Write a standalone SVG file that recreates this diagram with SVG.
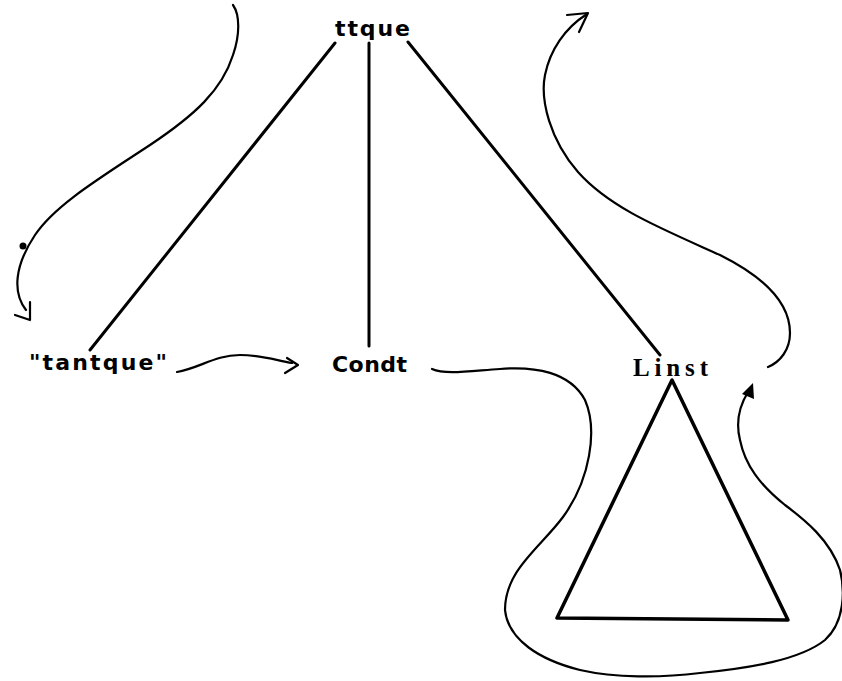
<svg xmlns="http://www.w3.org/2000/svg" width="842" height="681" viewBox="0 0 842 681">
<style>
.lbl{font-family:"DejaVu Sans","Liberation Sans",sans-serif;font-weight:bold;font-size:22px;fill:#000}
.ser{font-family:"Liberation Serif","DejaVu Serif",serif;font-weight:bold;font-size:25px;fill:#000}
.edge{stroke:#000;stroke-width:3;fill:none;stroke-linecap:round}
.curve{stroke:#000;stroke-width:2.2;fill:none;stroke-linecap:round;stroke-linejoin:round}
.tri{stroke:#000;stroke-width:3.5;fill:none;stroke-linejoin:round}
</style>
<rect width="842" height="681" fill="#fff"/>
<g id="connectors">
<line class="edge" x1="335" y1="43" x2="90" y2="350"/>
<line class="edge" x1="369" y1="43" x2="369" y2="346"/>
<line class="edge" x1="408" y1="42" x2="660" y2="355"/>
<path class="curve" d="M233,5 C240,15 240,35 233,55 C222,90 195,115 150,145 C100,178 55,205 35,235 C15,265 12,292 26,310"/>
<path class="curve" d="M30,302 L30,320 M15,315 L30,320"/>
<circle cx="23" cy="246" r="3.5" fill="#000"/>
<path class="curve" d="M177,372 C200,368 215,355 240,355 C260,355 275,360 292,363"/>
<path class="curve" d="M287,358 L298,365 L285,373"/>
<path class="curve" d="M432,369 C445,375 470,371 500,369 C535,366 570,372 585,400 C598,430 590,480 563,517 C540,548 505,570 505,610 C508,640 540,660 580,670 C615,678 660,678 700,673 C750,668 800,660 825,640 C845,622 845,590 840,570 C830,540 805,520 785,505 C760,485 745,465 740,440 C735,420 740,405 748,392"/>
<polygon points="753,383 742,394 754,399" fill="#000"/>
<path class="curve" d="M768,367 C780,362 790,350 790,333 C790,300 760,275 720,255 C660,228 610,208 578,172 C550,140 540,100 545,75 C550,50 565,28 587,14"/>
<path class="curve" d="M567,15 L588,13 L579,32"/>
</g>
<g id="ttque"><text class="lbl" x="335" y="36" textLength="75" lengthAdjust="spacing">ttque</text></g>
<g id="tantque"><text class="lbl" x="29" y="370" textLength="138" lengthAdjust="spacing">"tantque"</text></g>
<g id="Condt"><text class="lbl" x="332" y="372" textLength="75" lengthAdjust="spacing">Condt</text></g>
<g id="Linst"><text class="ser" x="633" y="376" textLength="75" lengthAdjust="spacing">Linst</text></g>
<g id="triangle"><polygon class="tri" points="672,380 557,618 788,620"/></g>
</svg>
